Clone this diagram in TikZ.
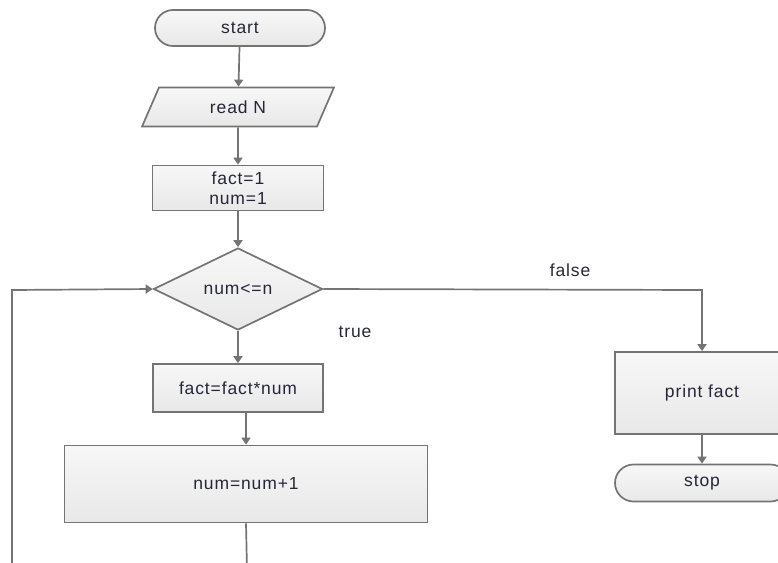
\documentclass[tikz,border=0pt]{standalone}
\usepackage{fontspec}
\setmainfont{Liberation Sans}[LetterSpace=5]
\usetikzlibrary{shapes.geometric,shapes.misc,arrows.meta}
\definecolor{linegray}{HTML}{747474}
\definecolor{textgray}{HTML}{26263A}
\begin{document}
\begin{tikzpicture}[x=1pt,y=-1pt,font=\fontsize{17.5}{22}\selectfont,text=textgray]
    \tikzstyle{flow box}=[draw=linegray,line width=1.7pt,top color=white!97!black,bottom color=black!9,inner sep=0]
    \tikzstyle{flow line}=[draw=linegray,line width=1.7pt]
    \tikzset{
    term node/.style={flow box,rounded rectangle},
    io node/.style={flow box,trapezium,trapezium left angle=65,trapezium right angle=115,trapezium stretches=true},
    proc node/.style={flow box,rectangle},
    test node/.style={flow box,diamond,aspect=2.06},
    arrow line/.style={flow line,-{Triangle[width=9pt,length=7pt]},color=linegray}
    }
    \useasboundingbox (0,0) rectangle (778,562);
    \node[term node,minimum width=170,minimum height=36] (start) at (240,28) {start};
    \node[io node,minimum width=192,minimum height=39] (read) at (238,107) {read N};
    \node[proc node,minimum width=171,minimum height=45,align=center,font=\fontsize{17.5}{20}\selectfont] (init) at (238,188) {fact=1\\num=1};
    \node[test node,minimum width=169,minimum height=82] (test) at (238,289) {num<=n};
    \node[proc node,minimum width=170,minimum height=48] (mult) at (238,388) {fact=fact*num};
    \node[proc node,minimum width=363,minimum height=77] (incr) at (246,484) {num=num+1};
    \node[proc node,minimum width=174,minimum height=82] (print) at (702,393) {print fact};
    \node[term node,minimum width=174,minimum height=37] (stop) at (702,483) {stop};
    \node (true) at (355,332) {true};
    \node (false) at (570,270) {false};
    \coordinate (incrend) at (247,570);
    \coordinate (loopend) at (12,570);
    \coordinate (loopturn) at (12,290);
    \coordinate (falseturn) at (702,290);
    \draw[arrow line] (start) -- (read);
    \draw[arrow line] (read) -- (init);
    \draw[arrow line] (init) -- (test);
    \draw[arrow line] (test) -- (mult);
    \draw[arrow line] (incr.north |- mult.south) -- (incr.north);
    \draw[flow line] (incr.south) -- (incrend);
    \draw[arrow line] (loopend) -- (loopturn) -- (test.west);
    \draw[arrow line] (test.east) -- (falseturn) -- (print.north);
    \draw[arrow line] (print) -- (stop);
\end{tikzpicture}
\end{document}
